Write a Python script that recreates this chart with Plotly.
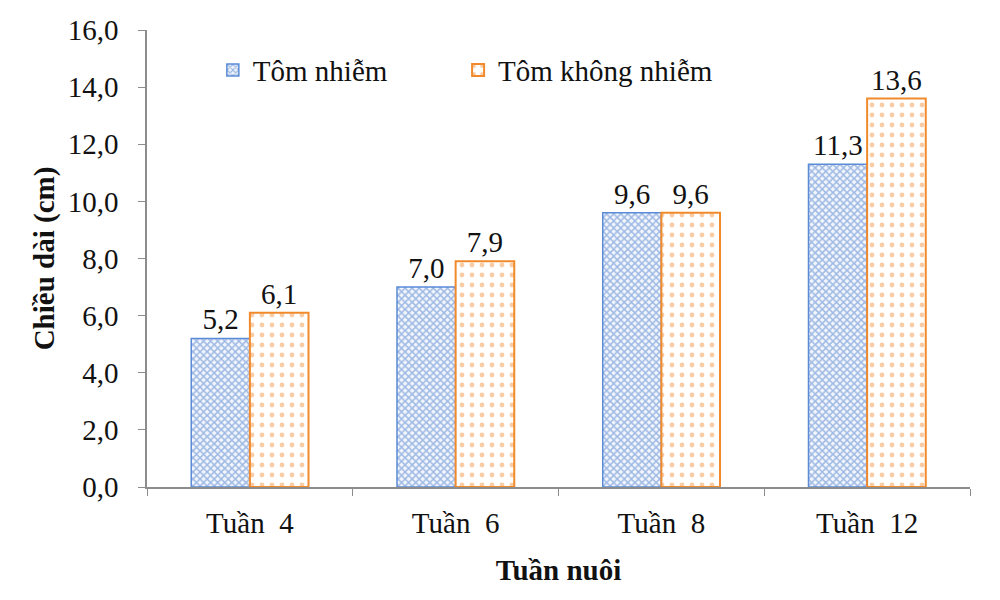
import plotly.graph_objects as go

categories = ["Tuần  4", "Tuần  6", "Tuần  8", "Tuần  12"]
tom_nhiem = [5.2, 7.0, 9.6, 11.3]
tom_khong_nhiem = [6.1, 7.9, 9.6, 13.6]
series_names = ["Tôm nhiễm", "Tôm không nhiễm"]

FONT = "Liberation Serif"
FS = 29

def lbl(v):
    return f"{v:.1f}".replace(".", ",")

fig = go.Figure()
fig.add_trace(go.Bar(
    x=categories, y=tom_nhiem, name=series_names[0], legend="legend",
    text=[lbl(v) for v in tom_nhiem], textposition="outside",
    textfont=dict(family=FONT, size=FS, color="#111"),
    marker=dict(color="white", line=dict(color="#5b8bd6", width=1.5),
                pattern=dict(shape="x", fgcolor="#4a7bcb", bgcolor="#f2f6fc", size=5, solidity=0.5)),
    cliponaxis=False,
))
fig.add_trace(go.Bar(
    x=categories, y=tom_khong_nhiem, name=series_names[1], legend="legend2",
    text=[lbl(v) for v in tom_khong_nhiem], textposition="outside",
    textfont=dict(family=FONT, size=FS, color="#111"),
    marker=dict(color="white", line=dict(color="#F08A2C", width=2),
                pattern=dict(shape=".", fgcolor="#F39A4E", bgcolor="white", size=10, solidity=0.18)),
    cliponaxis=False,
))

legend_style = dict(orientation="h", y=0.912, xanchor="left", yanchor="middle",
                    font=dict(family=FONT, size=FS, color="#111"),
                    bgcolor="rgba(0,0,0,0)", itemwidth=30)

fig.update_layout(
    width=1000, height=600,
    margin=dict(l=147, r=30, t=30, b=113),
    paper_bgcolor="white", plot_bgcolor="white",
    separators=",.",
    barmode="group", bargap=0.43, bargroupgap=0,
    font=dict(family=FONT, size=FS, color="#111"),
    showlegend=True,
    legend=dict(x=0.08, **legend_style),
    legend2=dict(x=0.378, **legend_style),
)
fig.update_xaxes(
    showline=True, linecolor="#8c8c8c", linewidth=1.5,
    ticks="outside", tickson="boundaries", ticklen=7, tickcolor="#8c8c8c",
    tickfont=dict(family=FONT, size=FS, color="#111"),
    ticklabelstandoff=9,
    title=dict(text="<b>Tuần nuôi</b>", font=dict(family=FONT, size=FS, color="#111"), standoff=22),
    showgrid=False,
)
fig.update_yaxes(
    range=[0, 16], dtick=2, tickformat=".1f",
    showline=True, linecolor="#8c8c8c", linewidth=1.5,
    ticks="outside", ticklen=7, tickcolor="#8c8c8c",
    tickfont=dict(family=FONT, size=FS, color="#111"),
    ticklabelstandoff=14,
    title=dict(text="<b>Chiều dài (cm)</b>", font=dict(family=FONT, size=FS, color="#111"), standoff=5),
    showgrid=False, zeroline=False,
)

# lay out a hidden element in another font after plotting, so the browser
# re-shapes all text once that font is loaded
refresh_js = """
var d = document.createElement('div');
d.setAttribute('aria-hidden', 'true');
d.style.cssText = 'position:absolute;right:0;bottom:0;visibility:hidden;font:11px "DejaVu Sans Mono", monospace;';
d.textContent = 'x';
document.body.appendChild(d);
"""

fig.write_html("out.html", post_script=refresh_js)
